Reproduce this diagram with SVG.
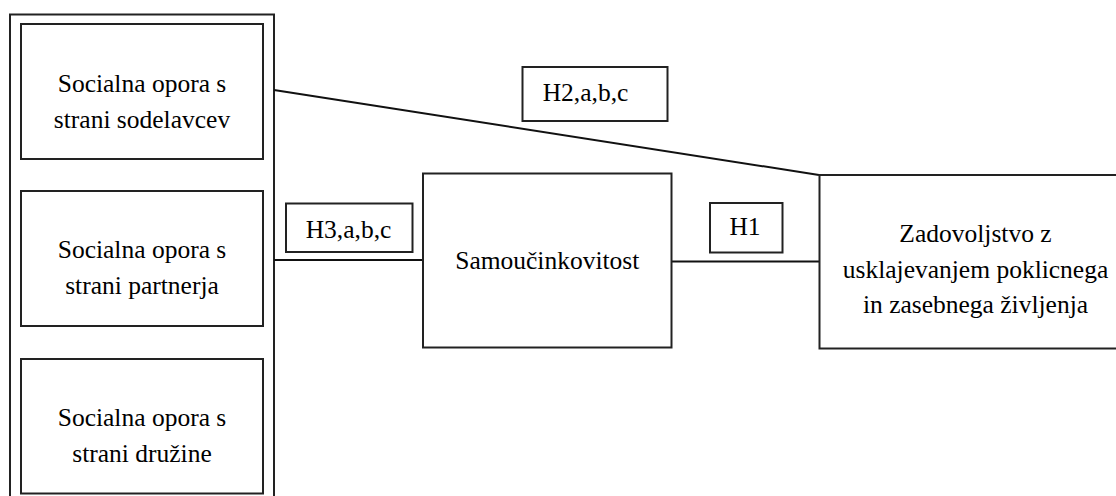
<svg xmlns="http://www.w3.org/2000/svg" width="1116" height="496" viewBox="0 0 1116 496">
<style>
.box{fill:#fff;stroke:#222;stroke-width:2}
.lbl{fill:#fff;stroke:#222;stroke-width:2}
.conn{fill:none;stroke:#111;stroke-width:2}
.t{font-family:'Liberation Serif',serif;font-size:25.5px;fill:#000;text-anchor:middle}
</style>
<rect width="1116" height="496" fill="#fff"/>
<g id="group-support">
<rect class="box" x="10" y="14.5" width="264" height="490"/>
</g>
<g id="connectors">
<line class="conn" x1="274" y1="90" x2="819" y2="175"/>
<line class="conn" x1="274" y1="260" x2="423" y2="260"/>
<line class="conn" x1="672" y1="261.5" x2="819" y2="261.5"/>
</g>
<g id="node-sodelavcev" font-family="Liberation Serif">
<rect class="box" x="21" y="24" width="242" height="135"/>
<text class="t" x="142" y="91.7">Socialna opora s</text>
<text class="t" x="142" y="127.7">strani sodelavcev</text>
</g>
<g id="node-partnerja">
<rect class="box" x="21" y="191" width="242" height="135"/>
<text class="t" x="142" y="258.3">Socialna opora s</text>
<text class="t" x="142" y="294">strani partnerja</text>
</g>
<g id="node-druzine">
<rect class="box" x="21" y="359" width="242" height="134.5"/>
<text class="t" x="142" y="426">Socialna opora s</text>
<text class="t" x="142" y="461.7">strani družine</text>
</g>
<g id="label-h3">
<rect class="lbl" x="286" y="203.5" width="126.5" height="48.5"/>
<text class="t" x="348.5" y="238.3">H3,a,b,c</text>
</g>
<g id="node-samoucinkovitost">
<rect class="box" x="423" y="173.5" width="248.5" height="174"/>
<text class="t" x="547.3" y="269.3">Samoučinkovitost</text>
</g>
<g id="label-h2">
<rect class="lbl" x="522.5" y="67" width="145" height="54"/>
<text class="t" x="585.5" y="101">H2,a,b,c</text>
</g>
<g id="label-h1">
<rect class="lbl" x="710" y="203" width="72.5" height="49.5"/>
<text class="t" x="745" y="235">H1</text>
</g>
<g id="node-zadovoljstvo">
<rect class="box" x="819.5" y="175" width="310" height="173.5"/>
<text class="t" x="975.5" y="241.7">Zadovoljstvo z</text>
<text class="t" x="975.5" y="278.3">usklajevanjem poklicnega</text>
<text class="t" x="975.5" y="312.7">in zasebnega življenja</text>
</g>
</svg>
